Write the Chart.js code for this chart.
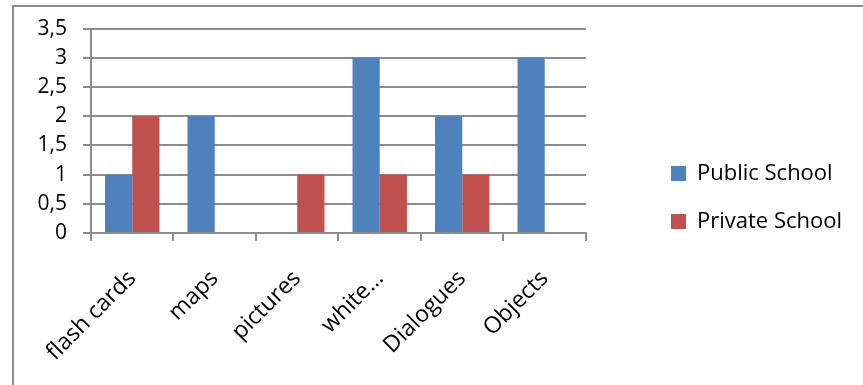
<!DOCTYPE html>
<html>
<head>
<meta charset="utf-8">
<script src="https://cdn.jsdelivr.net/npm/chart.js@4.4.1/dist/chart.umd.min.js"></script>
<style>
  html, body { margin: 0; padding: 0; background: #fff; }
  #wrap { position: relative; width: 863px; height: 385px; }
</style>
</head>
<body>
<div id="wrap"><canvas id="c"></canvas></div>
<script>
// Teaching aids used, by school type
const categories = ['flash cards', 'maps', 'pictures', 'white…', 'Dialogues', 'Objects'];
const publicSchool = [1, 2, 0, 3, 2, 3];
const privateSchool = [2, 0, 1, 1, 1, 0];
const yTicks = [0, 0.5, 1, 1.5, 2, 2.5, 3, 3.5];

const FONT = "'Open Sans', 'Liberation Sans', sans-serif";
const GRID = '#8c8c8c';

// white page with the grey frame along the top and left edges
const framePlugin = {
  id: 'frame',
  beforeDraw(chart) {
    const ctx = chart.ctx;
    ctx.save();
    ctx.fillStyle = '#fff';
    ctx.fillRect(0, 0, chart.width, chart.height);
    ctx.strokeStyle = '#8a8a8a';
    ctx.lineWidth = 2;
    ctx.beginPath();
    ctx.moveTo(13, chart.height);
    ctx.lineTo(13, 6);
    ctx.lineTo(chart.width, 6);
    ctx.stroke();
    ctx.restore();
  }
};

new Chart(document.getElementById('c'), {
  type: 'bar',
  data: {
    labels: categories,
    datasets: [
      { label: 'Public School', data: publicSchool, backgroundColor: '#4F81BD', yAxisID: 'y' },
      { label: 'Private School', data: privateSchool, backgroundColor: '#C0504D', yAxisID: 'y' }
    ]
  },
  options: {
    responsive: true,
    maintainAspectRatio: false,
    animation: false,
    layout: { padding: { top: 25, left: 0, right: 11, bottom: 15 } },
    datasets: { bar: { categoryPercentage: 0.66, barPercentage: 1.0, borderWidth: 0 } },
    scales: {
      x: {
        grid: { display: true, drawOnChartArea: false, drawTicks: true, tickLength: 8, offset: true, color: GRID, lineWidth: 2 },
        border: { display: true, color: GRID, width: 2 },
        ticks: {
          autoSkip: false, minRotation: 45, maxRotation: 45, padding: 24,
          color: '#000', font: { family: FONT, size: 23 }
        },
        afterFit(s) { s.height = 137; }
      },
      y: {
        min: 0, max: 3.5,
        afterBuildTicks(s) { s.ticks = yTicks.map(v => ({ value: v })); },
        grid: { color: GRID, lineWidth: 2, drawTicks: true, tickLength: 8 },
        border: { display: true, color: GRID, width: 2 },
        ticks: {
          padding: 16, color: '#000', font: { family: FONT, size: 21 },
          callback: v => String(v).replace('.', ',')
        },
        afterFit(s) { s.width = 91; }
      },
      gap: {
        type: 'linear', position: 'right', display: true,
        grid: { display: false, drawTicks: false },
        border: { display: false },
        ticks: { display: false },
        afterFit(s) { s.width = 59; }
      }
    },
    plugins: {
      legend: {
        position: 'right',
        align: 'center',
        maxWidth: 300,
        labels: {
          boxWidth: 15, boxHeight: 15, padding: 26,
          color: '#000', font: { family: FONT, size: 22 }
        }
      },
      tooltip: { enabled: false }
    }
  },
  plugins: [framePlugin]
});
</script>
</body>
</html>
